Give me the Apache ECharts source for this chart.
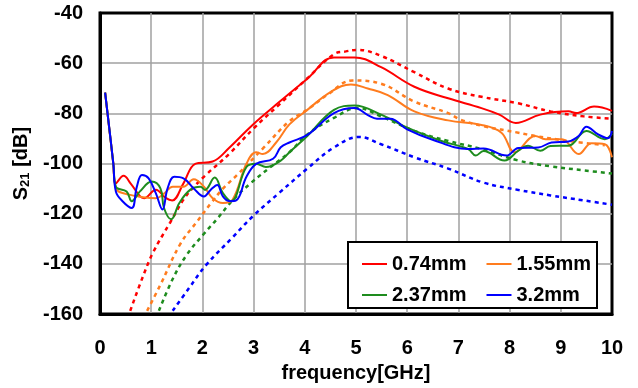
<!DOCTYPE html>
<html><head><meta charset="utf-8">
<script src="https://cdn.jsdelivr.net/npm/echarts@6/dist/echarts.min.js"></script>
<style>html,body{margin:0;padding:0;background:#fff}#c{width:638px;height:388px}</style>
</head><body><div id="c"></div><script>
// Legend names
const names = ['0.74mm', '1.55mm', '2.37mm', '3.2mm'];
const colors = ['#ff0000', '#ff7c1e', '#1e8c1e', '#0000ff'];

// Measured (solid) curves: [frequency GHz, S21 dB]
const m074 = [[0.1,-71.7],[0.26,-100],[0.31,-107.9],[0.46,-104.9],[0.6,-108],[0.78,-113],[0.86,-113.8],[1.09,-110.4],[1.29,-113.8],[1.41,-114.7],[1.63,-107.9],[1.86,-100.1],[2.2,-99.2],[2.53,-93.6],[2.99,-84.4],[3.5,-75.5],[4.05,-66.2],[4.57,-57.7],[4.97,-57.7],[5.49,-61.6],[6.14,-69.4],[6.8,-74],[7.45,-77.9],[7.8,-80.5],[8.12,-83.8],[8.6,-80.5],[9.15,-79.2],[9.3,-79.9],[9.65,-77.3],[10,-79]];
const m155 = [[0.1,-71.7],[0.26,-100],[0.31,-109.9],[0.59,-112.5],[0.84,-113.4],[1.09,-113.8],[1.25,-112],[1.42,-109.2],[1.63,-109.2],[1.83,-106.3],[2.03,-109.2],[2.2,-113.8],[2.4,-115.7],[2.59,-114.4],[2.86,-100.1],[3.05,-95.5],[3.18,-96.2],[3.44,-91.6],[3.7,-84.4],[4.05,-78.6],[4.51,-71.4],[4.9,-68.5],[5.23,-70.1],[5.62,-72.7],[6.14,-79.2],[6.8,-82.8],[7.45,-84.6],[7.84,-87.7],[8.1,-95.5],[8.5,-89],[8.7,-90.3],[9.02,-90.3],[9.35,-96.2],[9.6,-91.9],[9.86,-92.3],[10,-97.5]];
const m237 = [[0.1,-71.7],[0.26,-100],[0.31,-109.2],[0.52,-111.1],[0.62,-115],[0.78,-111.1],[1.01,-107.2],[1.18,-109.9],[1.25,-117.7],[1.39,-122.2],[1.55,-115.7],[1.76,-110.5],[1.96,-109.2],[2.05,-110.5],[2.24,-105.6],[2.4,-111.8],[2.56,-115],[2.86,-101.4],[3.05,-100.1],[3.24,-101.4],[3.53,-98.8],[3.7,-95.5],[4.05,-89],[4.57,-78.6],[4.97,-76.9],[5.49,-80.5],[6.0,-85.7],[6.67,-91],[7.19,-94.2],[7.34,-96.8],[7.49,-95],[7.9,-98.8],[8.17,-94.9],[8.36,-92.9],[8.6,-94.9],[8.8,-93],[9.15,-92.9],[9.5,-87],[9.86,-90.3],[10,-88.1]];
const m320 = [[0.1,-71.7],[0.26,-100],[0.31,-111.1],[0.44,-115],[0.62,-117.7],[0.72,-109.2],[0.82,-104.6],[0.95,-105.9],[1.09,-111.8],[1.22,-118.3],[1.32,-109.9],[1.45,-105.3],[1.63,-105.9],[1.83,-109.9],[2.03,-113.1],[2.16,-110.5],[2.29,-108.5],[2.4,-113.1],[2.53,-115],[2.66,-114.7],[2.86,-105.3],[3.05,-100.1],[3.38,-98.1],[3.53,-93.5],[3.7,-91.6],[4.05,-88.6],[4.57,-79.9],[4.97,-77.9],[5.24,-80.8],[5.41,-82.1],[5.67,-82.1],[6.0,-86.4],[6.47,-90.3],[7.19,-94.2],[7.49,-94],[7.94,-96.8],[8.17,-93.8],[8.56,-93.6],[8.82,-91.6],[9.15,-91.2],[9.35,-89],[9.5,-85.3],[9.73,-88.4],[9.92,-89.9],[10,-87]];

// Simulated (dotted) curves
const s074 = [[0.59,-158.7],[0.85,-144.4],[1.04,-135.3],[1.37,-123.5],[1.63,-114.4],[1.8,-110],[2.07,-104.5],[2.53,-96],[3.0,-86],[3.5,-76.5],[4.05,-66],[4.57,-56.4],[4.8,-55.3],[5.03,-54.7],[5.49,-57.1],[6.14,-63.6],[6.8,-70.1],[7.45,-73.4],[8.17,-76],[8.8,-79.2],[9.45,-81.2],[10,-82.1]];
const s155 = [[0.92,-158.7],[1.18,-148.3],[1.57,-132],[1.9,-123],[2.16,-116],[2.4,-110],[2.68,-104.5],[3.2,-93.6],[3.7,-83.1],[4.05,-78.5],[4.45,-72.5],[4.93,-66.9],[5.49,-68.2],[6.14,-75.3],[6.8,-79.9],[7.04,-82.5],[7.49,-85.1],[8.17,-87.7],[8.5,-89],[9.15,-91],[9.86,-92.7]];
const s237 = [[1.15,-158.7],[1.42,-146],[1.69,-136.5],[2.03,-128],[2.29,-122],[2.6,-114.4],[2.94,-107.9],[3.33,-101.4],[3.7,-95.5],[4.05,-88.4],[4.57,-81.8],[5.03,-77.9],[5.49,-81.2],[6.14,-87],[6.8,-91],[7.45,-94.2],[8.17,-98.8],[8.8,-101.1],[9.45,-102.7],[10,-104]];
const s320 = [[1.42,-158.7],[1.74,-149.6],[2.07,-140.5],[2.59,-129.4],[2.99,-120.9],[3.51,-111.5],[4.05,-102],[4.57,-93.6],[5.06,-89.4],[5.49,-92.3],[6.14,-97.5],[6.8,-102],[7.49,-107.6],[8.17,-110.5],[8.8,-112.7],[9.45,-114.7],[10,-116.4]];

const measured = [m074, m155, m237, m320];
const simulated = [s074, s155, s237, s320];

const FONT = 'Liberation Sans';
const chart = echarts.init(document.getElementById('c'));

const series = [];
simulated.forEach((d, i) => series.push({
  name: names[i] + ' sim', type: 'line', data: d, symbol: 'none', smooth: 0.4,
  lineStyle: { color: colors[i], width: 2.5, type: [4, 4] }, z: 2
}));
measured.forEach((d, i) => series.push({
  name: names[i], type: 'line', data: d, symbol: 'none', smooth: 0.4,
  itemStyle: { color: colors[i] },
  lineStyle: { color: colors[i], width: 2 }, z: 2
}));

const legendBase = {
  icon: 'rect', itemWidth: 25, itemHeight: 2, itemGap: 20,
  textStyle: { fontFamily: FONT, fontWeight: 'bold', fontSize: 20, color: '#000' },
  z: 20
};

chart.setOption({
  animation: false,
  backgroundColor: '#fff',
  grid: { left: 100, right: 26, top: 13, bottom: 68, show: true, borderColor: '#000', borderWidth: 3, backgroundColor: 'transparent' },
  xAxis: {
    type: 'value', min: 0, max: 10, interval: 1,
    name: 'frequency[GHz]', nameLocation: 'middle', nameGap: 44,
    nameTextStyle: { fontFamily: FONT, fontWeight: 'bold', fontSize: 20, color: '#000' },
    axisLine: { show: true, lineStyle: { color: '#000', width: 3 } },
    axisTick: { show: false },
    axisLabel: { fontFamily: FONT, fontWeight: 'bold', fontSize: 20, color: '#000', margin: 24 },
    splitLine: { show: true, showMinLine: false, showMaxLine: false, lineStyle: { color: '#a0a0a0', width: 1.5 } }
  },
  yAxis: {
    type: 'value', min: -160, max: -40, interval: 20,
    name: '{a|S}{s|21}{a| [dB]}', nameLocation: 'middle', nameGap: 63, nameRotate: 90,
    nameTextStyle: {
      rich: {
        a: { fontFamily: FONT, fontWeight: 'bold', fontSize: 20, color: '#000', lineHeight: 22, verticalAlign: 'middle' },
        s: { fontFamily: FONT, fontWeight: 'bold', fontSize: 13, color: '#000', lineHeight: 13, verticalAlign: 'bottom' }
      }
    },
    axisLine: { show: true, onZero: false, lineStyle: { color: '#000', width: 3 } },
    axisTick: { show: false },
    axisLabel: { fontFamily: FONT, fontWeight: 'bold', fontSize: 20, color: '#000', margin: 17 },
    splitLine: { show: true, showMinLine: false, showMaxLine: false, lineStyle: { color: '#a0a0a0', width: 1.5 } }
  },
  legend: [
    Object.assign({ data: [names[0], names[1]], left: 357, top: 249 }, legendBase),
    Object.assign({ data: [names[2], names[3]], left: 357, top: 280 }, legendBase)
  ],
  graphic: [{
    type: 'rect', z: 10,
    shape: { x: 348, y: 242, width: 249, height: 66 },
    style: { fill: '#fff', stroke: '#000', lineWidth: 2 }
  }],
  series: series
});
</script></body></html>
